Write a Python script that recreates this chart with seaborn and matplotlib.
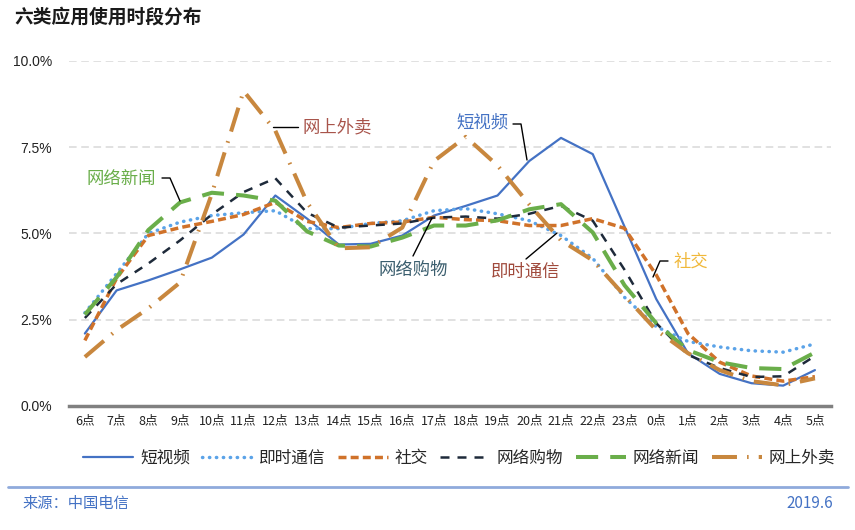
import matplotlib
matplotlib.use("Agg")
import numpy as np
import matplotlib.pyplot as plt
import seaborn as sns
from matplotlib.ticker import FuncFormatter

# ── data (share of daily usage, %) ────────────────────────────────────────────
hours = ["6点", "7点", "8点", "9点", "10点", "11点", "12点", "13点", "14点",
         "15点", "16点", "17点", "18点", "19点", "20点", "21点", "22点", "23点",
         "0点", "1点", "2点", "3点", "4点", "5点"]

short_video = [2.10, 3.35, 3.64, 3.96, 4.30, 4.97, 6.10, 5.43, 4.68, 4.70, 4.94, 5.52,
               5.80, 6.10, 7.10, 7.77, 7.30, 5.20, 3.10, 1.53, 0.93, 0.66, 0.59, 1.04]
instant_msg = [2.70, 3.84, 5.00, 5.33, 5.52, 5.60, 5.66, 5.14, 5.14, 5.29, 5.37, 5.66,
               5.72, 5.57, 5.37, 4.94, 4.28, 3.15, 2.30, 1.87, 1.71, 1.60, 1.56, 1.80]
social = [1.90, 3.70, 4.94, 5.17, 5.35, 5.55, 5.90, 5.35, 5.17, 5.29, 5.33, 5.47,
          5.40, 5.37, 5.23, 5.23, 5.43, 5.15, 3.80, 2.10, 1.27, 0.87, 0.72, 0.85]
shopping = [2.55, 3.53, 4.13, 4.80, 5.55, 6.20, 6.60, 5.60, 5.17, 5.23, 5.29, 5.46,
            5.49, 5.43, 5.57, 5.80, 5.37, 3.95, 2.40, 1.48, 1.10, 0.84, 0.86, 1.45]
news = [2.65, 3.73, 5.10, 5.90, 6.18, 6.10, 5.95, 5.06, 4.65, 4.62, 4.88, 5.23,
        5.23, 5.38, 5.70, 5.85, 5.03, 3.50, 2.40, 1.62, 1.27, 1.10, 1.07, 1.55]
delivery = [1.42, 2.20, 2.83, 3.58, 6.15, 9.13, 7.98, 5.90, 4.57, 4.60, 5.17, 7.10,
            7.80, 6.97, 5.84, 4.80, 4.22, 3.20, 2.20, 1.53, 1.04, 0.72, 0.60, 0.80]

series_names = ["短视频", "即时通信", "社交", "网络购物", "网络新闻", "网上外卖"]
series_vals = [short_video, instant_msg, social, shopping, news, delivery]

# ── styling ───────────────────────────────────────────────────────────────────
sns.set_theme(style="white")
plt.rcParams["font.family"] = ["Noto Sans CJK SC", "DejaVu Sans"]

styles = {
    "短视频":   dict(color="#4472C4", lw=1.6, dashes=None,                cap="butt"),
    "即时通信": dict(color="#5BA3E8", lw=2.5, dashes=(0.1, 1.9),          cap="round"),
    "社交":     dict(color="#D0722A", lw=2.5, dashes=(2.3, 1.2),          cap="butt"),
    "网络购物": dict(color="#1E2A3A", lw=1.8, dashes=(3.6, 3.2),          cap="butt"),
    "网络新闻": dict(color="#6AAE4A", lw=2.9, dashes=(5.5, 3.0),          cap="butt"),
    "网上外卖": dict(color="#C8873E", lw=2.9, dashes=(6.2, 2.5, 0.4, 2.5), cap="butt"),
}

fig = plt.figure(figsize=(8.55, 5.3), dpi=100)
ax = fig.add_axes([0.0807, 0.234, 0.891, 0.651])

x = np.arange(len(hours))
for name, vals in zip(series_names, series_vals):
    st = styles[name]
    sns.lineplot(x=x, y=vals, ax=ax, color=st["color"], lw=st["lw"],
                 label=name, legend=False)
    line = ax.lines[-1]
    if st["dashes"] is not None:
        line.set_dashes(st["dashes"])
    line.set_dash_capstyle(st["cap"])
    line.set_solid_capstyle("round")

# ── axes ──────────────────────────────────────────────────────────────────────
ax.set_xlim(-0.5, len(hours) - 0.5)
ax.set_ylim(0, 10)
ax.set_yticks([0, 2.5, 5, 7.5, 10])
ax.yaxis.set_major_formatter(FuncFormatter(lambda v, _: f"{v:.1f}%"))
ax.set_xticks(x)
ax.set_xticklabels(hours, fontsize=9, color="#222222")
for lbl in ax.get_yticklabels():
    lbl.set_fontfamily("Liberation Sans")
    lbl.set_fontsize(10)
    lbl.set_color("#222222")
ax.tick_params(axis="x", length=0, pad=6)
ax.tick_params(axis="y", length=0, pad=12)
ax.yaxis.grid(True, color="#D9D9D9", linestyle=(0, (5, 3)), lw=1.1)
ax.xaxis.grid(False)
for side in ["top", "right", "left"]:
    ax.spines[side].set_visible(False)
ax.spines["bottom"].set_color("#808080")
ax.spines["bottom"].set_linewidth(2.5)
ax.set_xlabel("")
ax.set_ylabel("")

# ── annotations ───────────────────────────────────────────────────────────────
def px(xp, yp):
    return (xp / 855, 1 - yp / 530)

def leader(points):
    xs = [p[0] / 855 for p in points]
    ys = [1 - p[1] / 530 for p in points]
    fig.add_artist(plt.Line2D(xs, ys, color="black", lw=1.0,
                              transform=fig.transFigure))

labels = [
    ("网上外卖", 337, 127, "#A8544B", [(273, 127), (298, 127)]),
    ("短视频",   482, 123, "#4472C4", [(513, 124), (521, 124), (527, 160)]),
    ("网络新闻", 121, 179, "#6AAE4A", [(162, 178), (170, 178), (180, 201)]),
    ("网络购物", 413, 270, "#3B5E6E", [(413, 256), (432, 218)]),
    ("即时通信", 526, 272, "#A04A3C", [(526, 259), (557, 233)]),
    ("社交",     691, 262, "#F0B83A", [(668, 261), (660, 261), (653, 277)]),
]
for text, tx, ty, col, pts in labels:
    fig.text(*px(tx, ty), text, color=col, fontsize=12.5,
             ha="center", va="center")
    leader(pts)

# ── legend ────────────────────────────────────────────────────────────────────
handles, names = ax.get_legend_handles_labels()
fig.legend(handles, names, loc="center", bbox_to_anchor=px(459, 458),
           ncol=6, frameon=False, fontsize=12, handlelength=3.0,
           handletextpad=0.4, columnspacing=0.75)

# ── title and footer ──────────────────────────────────────────────────────────
fig.text(*px(14, 17), "六类应用使用时段分布", fontsize=13.5, fontweight="bold",
         color="#1a1a1a", ha="left", va="center")
fig.add_artist(plt.Line2D([8 / 855, 848 / 855], [1 - 487 / 530] * 2,
                          color="#8FAADC", lw=2, transform=fig.transFigure))
fig.text(*px(22, 503), "来源：中国电信", fontsize=11, color="#4472C4",
         ha="left", va="center")
fig.text(*px(833, 503), "2019.6", fontsize=11, color="#4472C4",
         ha="right", va="center")

fig.savefig("out.png", dpi=100)
